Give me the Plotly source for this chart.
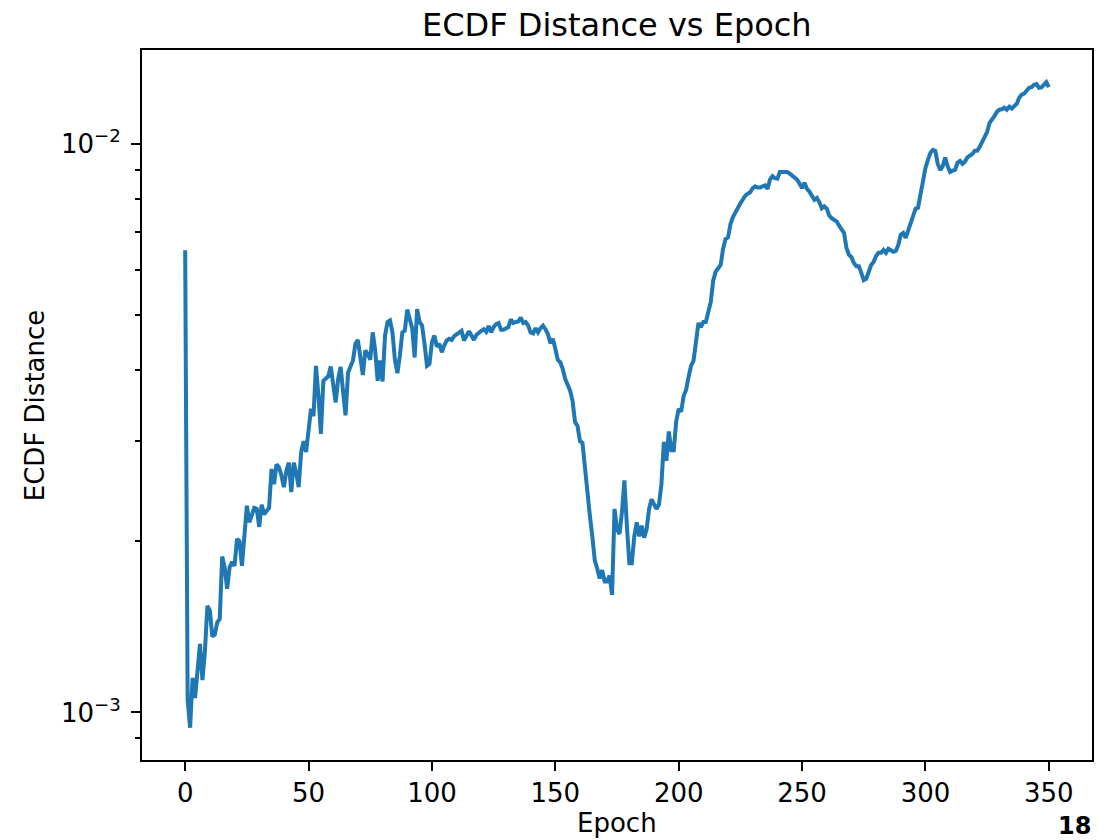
import math
import plotly.graph_objects as go

# ---- data ----
epochs = list(range(351))

# ECDF distance in units of 1e-3
ecdf_milli = [
    6.5, 1.05, 0.94, 1.15, 1.06, 1.18, 1.32, 1.14, 1.28, 1.54,
    1.51, 1.36, 1.37, 1.44, 1.46, 1.88, 1.80, 1.65, 1.80, 1.84,
    1.81, 2.02, 2.00, 1.81, 2.04, 2.31, 2.16, 2.23, 2.29, 2.28,
    2.12, 2.32, 2.23, 2.26, 2.29, 2.68, 2.52, 2.73, 2.70, 2.61,
    2.49, 2.66, 2.75, 2.44, 2.75, 2.64, 2.49, 2.87, 3.00, 2.87,
    3.11, 3.42, 3.32, 4.07, 3.61, 3.09, 3.83, 3.87, 3.90, 4.06,
    3.81, 3.51, 3.86, 4.05, 3.66, 3.33, 3.96, 4.05, 4.16, 4.45,
    4.52, 4.21, 3.92, 4.33, 4.27, 4.17, 4.66, 4.33, 3.83, 4.16,
    3.82, 4.60, 4.86, 4.89, 4.66, 4.17, 3.95, 4.24, 4.66, 4.69,
    5.11, 4.92, 4.74, 4.21, 5.12, 4.86, 4.79, 4.45, 4.07, 4.10,
    4.48, 4.60, 4.40, 4.45, 4.30, 4.42, 4.51, 4.54, 4.52, 4.59,
    4.63, 4.66, 4.69, 4.51, 4.60, 4.68, 4.60, 4.52, 4.61, 4.66,
    4.69, 4.72, 4.67, 4.78, 4.66, 4.76, 4.82, 4.84, 4.71, 4.71,
    4.74, 4.76, 4.91, 4.84, 4.86, 4.87, 4.95, 4.84, 4.86, 4.79,
    4.66, 4.64, 4.74, 4.66, 4.74, 4.79, 4.72, 4.63, 4.46, 4.54,
    4.36, 4.17, 4.13, 4.02, 3.86, 3.75, 3.68, 3.53, 3.24, 3.19,
    3.00, 2.98, 2.68, 2.39, 2.22, 2.04, 1.85, 1.79, 1.72, 1.78,
    1.70, 1.70, 1.74, 1.61, 2.28, 2.10, 2.06, 2.25, 2.56, 2.13,
    1.83, 1.83, 2.04, 2.16, 2.04, 2.13, 2.03, 2.10, 2.28, 2.37,
    2.32, 2.28, 2.32, 2.52, 2.99, 2.77, 3.12, 2.89, 2.89, 3.25,
    3.42, 3.38, 3.60, 3.69, 3.89, 4.07, 4.15, 4.56, 4.84, 4.76,
    4.86, 4.86, 5.08, 5.27, 5.75, 5.96, 6.04, 6.12, 6.54, 6.80,
    6.85, 7.23, 7.43, 7.58, 7.77, 7.86, 7.98, 8.11, 8.17, 8.22,
    8.36, 8.42, 8.38, 8.38, 8.42, 8.45, 8.33, 8.65, 8.77, 8.70,
    8.68, 8.92, 8.92, 8.92, 8.92, 8.86, 8.80, 8.74, 8.65, 8.51,
    8.36, 8.54, 8.33, 8.24, 8.08, 7.97, 8.03, 7.90, 7.70, 7.76,
    7.69, 7.48, 7.40, 7.35, 7.30, 7.18, 7.06, 6.97, 6.56, 6.38,
    6.32, 6.17, 6.09, 6.09, 5.93, 5.76, 5.79, 5.95, 6.12, 6.20,
    6.35, 6.43, 6.43, 6.51, 6.43, 6.54, 6.51, 6.46, 6.48, 6.64,
    6.92, 6.97, 6.83, 7.03, 7.26, 7.50, 7.69, 7.72, 8.17, 8.71,
    9.07, 9.37, 9.64, 9.76, 9.72, 9.22, 8.99, 9.13, 9.46, 9.13,
    8.92, 8.97, 9.00, 9.26, 9.33, 9.22, 9.30, 9.47, 9.53, 9.60,
    9.72, 9.72, 9.88, 10.08, 10.29, 10.50, 10.89, 11.02, 11.20, 11.39,
    11.48, 11.50, 11.57, 11.48, 11.62, 11.53, 11.62, 11.76, 12.05, 12.20,
    12.25, 12.40, 12.55, 12.58, 12.70, 12.74, 12.55, 12.57, 12.70, 12.83,
    12.58,
]
ecdf = [v * 1e-3 for v in ecdf_milli]

x_tick_vals = [0, 50, 100, 150, 200, 250, 300, 350]
y_major_vals = [1e-3, 1e-2]
y_major_text = ["10<sup>\u22123</sup>", "10<sup>\u22122</sup>"]
y_minor_vals = [9e-4, 2e-3, 3e-3, 4e-3, 5e-3, 6e-3, 7e-3, 8e-3, 9e-3]

title_text = "ECDF Distance vs Epoch"
x_label = "Epoch"
y_label = "ECDF Distance"
corner_text = "18"

# matplotlib-like 5% margins
xmin, xmax = min(epochs), max(epochs)
xpad = 0.05 * (xmax - xmin)
lo, hi = math.log10(min(ecdf)), math.log10(max(ecdf))
ypad = 0.05 * (hi - lo)

FONT = "DejaVu Sans"

fig = go.Figure(
    go.Scatter(
        x=epochs, y=ecdf, mode="lines",
        line=dict(color="#1f77b4", width=4),
        hoverinfo="skip",
    )
)

fig.update_layout(
    width=1099, height=840,
    margin=dict(l=142, r=5, t=50, b=80),
    plot_bgcolor="white", paper_bgcolor="white",
    showlegend=False,
    font=dict(family=FONT, color="black"),
)

fig.update_xaxes(
    range=[xmin - xpad, xmax + xpad],
    showline=True, linecolor="black", linewidth=2, mirror=True,
    ticks="outside", ticklen=9, tickwidth=2, tickcolor="black",
    tickmode="array", tickvals=x_tick_vals,
    showgrid=False, zeroline=False,
    tickfont=dict(family=FONT, size=26, color="black"),
)

fig.update_yaxes(
    type="log",
    range=[lo - ypad, hi + ypad],
    showline=True, linecolor="black", linewidth=2, mirror=True,
    ticks="outside", ticklen=9, tickwidth=2, tickcolor="black",
    tickmode="array", tickvals=y_major_vals, ticktext=y_major_text,
    ticklabelstandoff=5,
    minor=dict(tickmode="array", tickvals=y_minor_vals, ticks="outside",
               ticklen=5, tickwidth=1.6, tickcolor="black", showgrid=False),
    showgrid=False, zeroline=False,
    tickfont=dict(family=FONT, size=26, color="black"),
)

fig.add_annotation(
    text=title_text, xref="paper", yref="paper", x=0.5, y=1.035,
    xanchor="center", yanchor="middle", showarrow=False,
    font=dict(family=FONT, size=32, color="black"),
)
fig.add_annotation(
    text=x_label, xref="paper", yref="paper", x=0.5, y=-0.089,
    xanchor="center", yanchor="middle", showarrow=False,
    font=dict(family=FONT, size=26, color="black"),
)
fig.add_annotation(
    text=y_label, xref="paper", yref="paper", x=-0.1124, y=0.5,
    xanchor="center", yanchor="middle", showarrow=False, textangle=-90,
    font=dict(family=FONT, size=26, color="black"),
)
fig.add_annotation(
    text="<b>" + corner_text + "</b>", xref="paper", yref="paper", x=0.982, y=-0.093,
    xanchor="center", yanchor="middle", showarrow=False,
    font=dict(family=FONT, size=24, color="black"),
)

fig.write_html("out.html")
